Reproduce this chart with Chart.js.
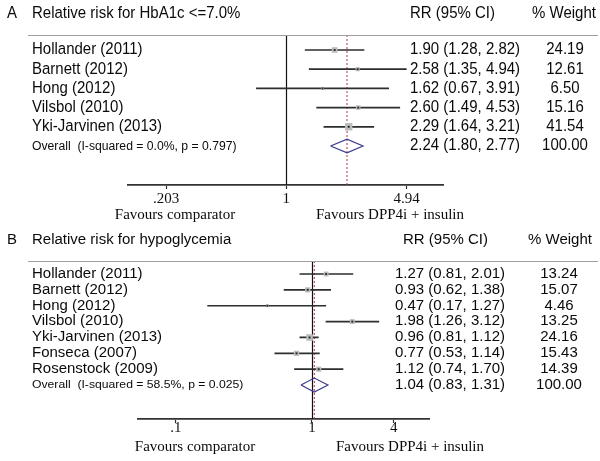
<!DOCTYPE html>
<html>
<head>
<meta charset="utf-8">
<script src="https://cdn.jsdelivr.net/npm/chart.js@4.4.1/dist/chart.umd.min.js"></script>
<style>
  html, body { margin: 0; padding: 0; background: #fff; }
  #wrap { position: relative; width: 600px; height: 461px; }
  .panel { position: absolute; left: 0; width: 600px; }
  #panelA { top: 0; height: 230px; }
  #panelB { top: 230px; height: 231px; }
</style>
</head>
<body>
<div id="wrap">
  <div class="panel" id="panelA"><canvas id="chartA"></canvas></div>
  <div class="panel" id="panelB"><canvas id="chartB"></canvas></div>
</div>
<script>
// --- Panel A: relative risk for HbA1c <= 7.0% ---
const studiesA = ["Hollander (2011)", "Barnett (2012)", "Hong (2012)", "Vilsbol (2010)", "Yki-Jarvinen (2013)"];
const rrA = [1.90, 2.58, 1.62, 2.60, 2.29];
const loA = [1.28, 1.35, 0.67, 1.49, 1.64];
const hiA = [2.82, 4.94, 3.91, 4.53, 3.21];
const weightA = [24.19, 12.61, 6.50, 15.16, 41.54];
const overallA = [2.24, 1.80, 2.77]; // rr, lo, hi
const overallLabelA = "Overall  (I-squared = 0.0%, p = 0.797)";
const tickValsA = [0.203, 1, 4.94];
const tickLabelsA = [".203", "1", "4.94"];

// --- Panel B: relative risk for hypoglycemia ---
const studiesB = ["Hollander (2011)", "Barnett (2012)", "Hong (2012)", "Vilsbol (2010)", "Yki-Jarvinen (2013)", "Fonseca (2007)", "Rosenstock (2009)"];
const rrB = [1.27, 0.93, 0.47, 1.98, 0.96, 0.77, 1.12];
const loB = [0.81, 0.62, 0.17, 1.26, 0.81, 0.53, 0.74];
const hiB = [2.01, 1.38, 1.27, 3.12, 1.12, 1.14, 1.70];
const weightB = [13.24, 15.07, 4.46, 13.25, 24.16, 15.43, 14.39];
const overallB = [1.04, 0.83, 1.31];
const overallLabelB = "Overall  (I-squared = 58.5%, p = 0.025)";
const tickValsB = [0.1, 1, 4];
const tickLabelsB = [".1", "1", "4"];

const SANS = "'Liberation Sans', Arial, sans-serif";
const SERIF = "'Liberation Serif', 'Times New Roman', serif";
const TXT = "#0a0a0a";

function drawText(ctx, text, x, y, align, font, sy) {
  ctx.save();
  ctx.font = font;
  ctx.fillStyle = TXT;
  ctx.textAlign = align;
  ctx.textBaseline = "middle";
  ctx.translate(x, y);
  ctx.scale(1, sy);
  ctx.fillText(text, 0, 0);
  ctx.restore();
}

function makeForest(id, d) {
  const n = d.studies.length;
  const [oRR, oLo, oHi] = d.overall;

  // CI segments separated by gaps
  const ciData = [];
  d.rr.forEach((_, i) => {
    ciData.push({ x: d.lo[i], y: i }, { x: d.hi[i], y: i }, { x: null, y: null });
  });
  const pts = d.rr.map((v, i) => ({ x: v, y: i }));
  const boxR = d.weight.map(w => d.boxK * Math.sqrt(w) / Math.SQRT2);
  const diamond = [
    { x: oLo, y: n }, { x: oRR, y: n - d.diamondH }, { x: oHi, y: n },
    { x: oRR, y: n + d.diamondH }, { x: oLo, y: n }
  ];

  const fmt = v => v.toFixed(2);

  const forestText = {
    id: "forestText",
    beforeDatasetsDraw(chart) {
      const { ctx, chartArea: a } = chart;
      const xs = chart.scales.x;
      ctx.save();
      // line of no effect
      const x1 = Math.round(xs.getPixelForValue(1)) + 0.5;
      ctx.strokeStyle = "#111";
      ctx.lineWidth = 1.2;
      ctx.beginPath(); ctx.moveTo(x1, a.top); ctx.lineTo(x1, a.bottom); ctx.stroke();
      // overall estimate
      const xo = xs.getPixelForValue(oRR);
      ctx.strokeStyle = "#b0304a";
      ctx.lineWidth = 1;
      ctx.setLineDash([2, 2]);
      ctx.beginPath(); ctx.moveTo(xo, a.top); ctx.lineTo(xo, a.bottom); ctx.stroke();
      ctx.restore();
    },
    afterDraw(chart) {
      const { ctx, chartArea: a } = chart;
      const ys = chart.scales.y;
      const sy = d.sy;
      const f15 = "15px " + SANS;

      // header
      drawText(ctx, d.letter, 7, d.titleY, "left", f15, sy);
      drawText(ctx, d.title, 32, d.titleY, "left", f15, sy);
      drawText(ctx, "RR (95% CI)", d.rrHeadX, d.titleY, "left", f15, sy);
      drawText(ctx, "% Weight", d.wHeadX, d.titleY, "center", f15, sy);

      ctx.save();
      ctx.strokeStyle = "#a0a0a0";
      ctx.lineWidth = 1;
      ctx.beginPath(); ctx.moveTo(28, a.top + 0.5); ctx.lineTo(598, a.top + 0.5); ctx.stroke();
      ctx.restore();

      // rows
      d.studies.forEach((s, i) => {
        const y = ys.getPixelForValue(i);
        drawText(ctx, s, 32, y, "left", f15, sy);
        drawText(ctx, `${fmt(d.rr[i])} (${fmt(d.lo[i])}, ${fmt(d.hi[i])})`, d.rrX, y, "left", f15, sy);
        drawText(ctx, fmt(d.weight[i]), d.wX, y, "center", f15, sy);
      });
      const yo = ys.getPixelForValue(n);
      drawText(ctx, d.overallLabel, 32, yo, "left", "12.2px " + SANS, sy);
      drawText(ctx, `${fmt(oRR)} (${fmt(oLo)}, ${fmt(oHi)})`, d.rrX, yo, "left", f15, sy);
      drawText(ctx, "100.00", d.wX, yo, "center", f15, sy);

      // axis captions
      const fy = a.bottom + d.favY;
      drawText(ctx, "Favours comparator", d.favL, fy, "center", "15px " + SERIF, 1);
      drawText(ctx, "Favours DPP4i + insulin", d.favR, fy, "center", "15px " + SERIF, 1);
    }
  };

  return new Chart(document.getElementById(id), {
    type: "scatter",
    data: {
      datasets: [
        { data: pts, order: 0, pointStyle: "rect", pointRadius: 1.4, backgroundColor: "#2a2a2a", borderWidth: 0 },
        { data: pts, order: 1, pointStyle: "rect", pointRadius: boxR, backgroundColor: "#bdbdbd", borderWidth: 0 },
        { data: diamond, order: 2, showLine: true, pointRadius: 0, borderColor: "#3a3a92", borderWidth: 1.2, fill: false, tension: 0 },
        { data: ciData, order: 3, showLine: true, spanGaps: false, pointRadius: 0, borderColor: "#2e2e2e", borderWidth: 1.7, tension: 0 }
      ]
    },
    options: {
      responsive: true,
      maintainAspectRatio: false,
      animation: false,
      events: [],
      layout: { padding: d.pad, autoPadding: false },
      plugins: { legend: { display: false }, tooltip: { enabled: false } },
      scales: {
        x: {
          type: "logarithmic",
          min: d.xMin,
          max: d.xMax,
          bounds: "data",
          afterBuildTicks: s => { s.ticks = d.tickVals.map(v => ({ value: v })); },
          afterFit: s => { s.height = d.axisH; },
          border: { display: true, color: "#333", width: 1.8 },
          grid: { display: true, drawOnChartArea: false, drawTicks: true, tickLength: 4, tickColor: "#333", tickWidth: 1.2 },
          ticks: {
            autoSkip: false, maxRotation: 0, minRotation: 0, padding: d.tickPad, color: "#111",
            font: { family: SERIF, size: 15, lineHeight: 1 },
            callback: (v, i) => d.tickLabels[i]
          }
        },
        y: { type: "linear", display: false, reverse: true, min: d.yMin, max: d.yMax }
      }
    },
    plugins: [forestText]
  });
}

makeForest("chartA", {
  letter: "A", title: "Relative risk for HbA1c <=7.0%",
  studies: studiesA, rr: rrA, lo: loA, hi: hiA, weight: weightA,
  overall: overallA, overallLabel: overallLabelA,
  tickVals: tickValsA, tickLabels: tickLabelsA,
  xMin: Math.exp(-2.1), xMax: Math.exp(2.08), yMin: -0.78, yMax: 7.03,
  pad: { left: 128, right: 157, top: 35, bottom: 0 }, axisH: 45, tickPad: 3,
  titleY: 14, rrHeadX: 410, wHeadX: 564, rrX: 410, wX: 565,
  favL: 175, favR: 390, favY: 30, sy: 1.07, boxK: 1.15, diamondH: 0.36
});

makeForest("chartB", {
  letter: "B", title: "Relative risk for hypoglycemia",
  studies: studiesB, rr: rrB, lo: loB, hi: hiB, weight: weightB,
  overall: overallB, overallLabel: overallLabelB,
  tickVals: tickValsB, tickLabels: tickLabelsB,
  xMin: 0.0526, xMax: 7.25, yMin: -0.82, yMax: 9.14,
  pad: { left: 138, right: 171, top: 31, bottom: 0 }, axisH: 42, tickPad: -2.5,
  titleY: 10, rrHeadX: 403, wHeadX: 560, rrX: 395, wX: 559,
  favL: 195, favR: 410, favY: 28, sy: 0.92, boxK: 1.35, diamondH: 0.44
});
</script>
</body>
</html>
